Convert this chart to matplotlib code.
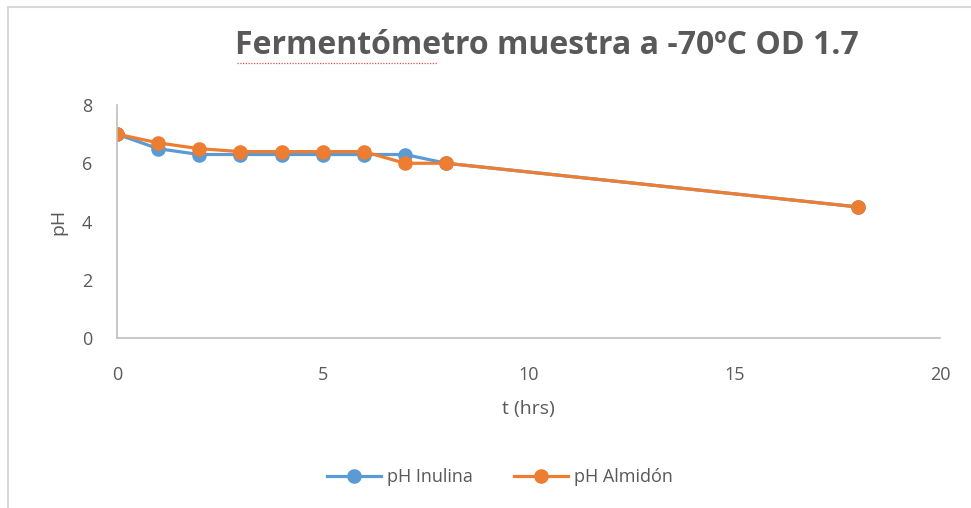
import matplotlib.pyplot as plt
from matplotlib.patches import Rectangle
from matplotlib.lines import Line2D

# tiempo (hrs) y pH de cada muestra
t = [0, 1, 2, 3, 4, 5, 6, 7, 8, 18]
ph_inulina = [7.0, 6.5, 6.3, 6.3, 6.3, 6.3, 6.3, 6.3, 6.0, 4.5]
ph_almidon = [7.0, 6.7, 6.5, 6.4, 6.4, 6.4, 6.4, 6.0, 6.0, 4.5]
series = ['pH Inulina', 'pH Almidón']
colores = ['#5B9BD5', '#ED7D31']

plt.rcParams['font.family'] = ['Open Sans', 'DejaVu Sans']
gris = '#595959'

fig = plt.figure(figsize=(9.71, 5.08), dpi=100)
W, H = 971, 508
# marco del area del grafico
fig.patches.append(Rectangle((8/W, -0.1), 1.2, 1-7/H+0.1, transform=fig.transFigure,
                             fill=False, edgecolor='#d9d9d9', linewidth=1.5))

ax = fig.add_axes([117/W, 1-338/H, (940-117)/W, (338-105)/H])
for y, nombre, c in zip([ph_inulina, ph_almidon], series, colores):
    ax.plot(t, y, color=c, linewidth=2.3, marker='o', markersize=9.5, label=nombre,
            solid_joinstyle='round')

ax.set_xlim(0, 20)
ax.set_ylim(0, 8)
ax.set_xticks(range(0, 21, 5))
ax.set_yticks(range(0, 9, 2))
for s in ['top', 'right']:
    ax.spines[s].set_visible(False)
for s in ['left', 'bottom']:
    ax.spines[s].set_color('#bfbfbf')
    ax.spines[s].set_linewidth(1.2)
ax.tick_params(length=0, labelsize=13, colors=gris)
ax.tick_params(axis='x', pad=20)
ax.tick_params(axis='y', pad=18)
ax.set_xlabel('t (hrs)', fontsize=14, color=gris, labelpad=12)
ax.set_ylabel('pH', fontsize=14, color=gris, labelpad=10)

fig.text(547/W, 1-45/H, 'Fermentómetro muestra a -70ºC OD 1.7', ha='center', va='center',
         fontsize=23, fontweight='bold', color=gris)
# subrayado del corrector ortografico
fig.add_artist(Line2D([237/W, 437/W], [1-63/H, 1-63/H], transform=fig.transFigure,
                      color='#e65050', linewidth=0.9, linestyle=(0, (1, 1.2))))

fig.legend(loc='center', bbox_to_anchor=(500/W, 1-477/H), ncol=2, frameon=False,
           fontsize=13, labelcolor=gris, handlelength=3.0, columnspacing=2.3, handletextpad=0.3)

fig.savefig('out.png', dpi=100)
